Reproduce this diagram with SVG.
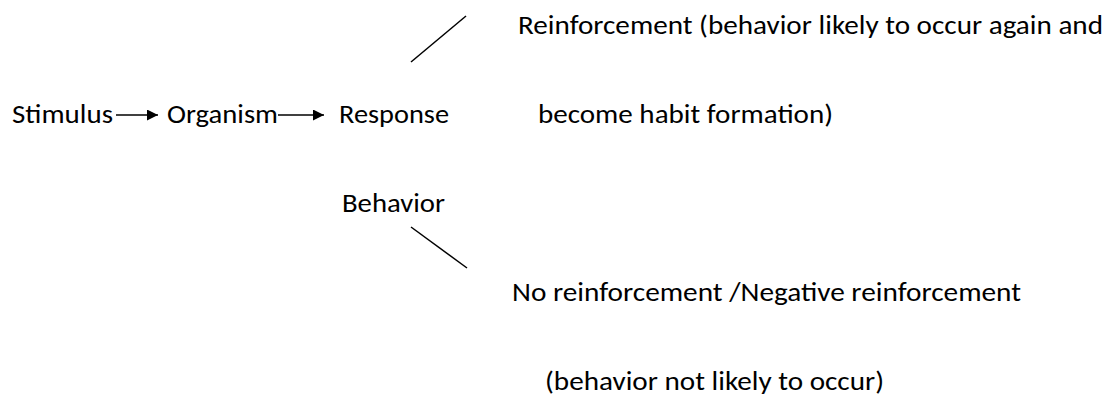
<svg xmlns="http://www.w3.org/2000/svg" width="1113" height="397" viewBox="0 0 1113 397">
  <style>
    text { font-family: Carlito, Lato, "Open Sans", sans-serif; font-size: 26.5px; fill: #000; }
    .ln { stroke: #000; stroke-width: 1.5; fill: none; }
  </style>
  <defs>
    <marker id="arrow" viewBox="0 0 10 10" refX="10" refY="5" markerWidth="15" markerHeight="11" markerUnits="userSpaceOnUse" orient="auto">
      <path d="M0,0 L10,5 L0,10 z" fill="#000"/>
    </marker>
  </defs>
  <rect width="1113" height="397" fill="#fff"/>

  <g id="stimulus"><text x="12" y="123" textLength="101" lengthAdjust="spacingAndGlyphs">Stimulus</text></g>
  <g id="organism"><text x="167" y="123" textLength="111" lengthAdjust="spacingAndGlyphs">Organism</text></g>
  <g id="response"><text x="339" y="123" textLength="110" lengthAdjust="spacingAndGlyphs">Response</text></g>
  <g id="behavior"><text x="342" y="212" textLength="103" lengthAdjust="spacingAndGlyphs">Behavior</text></g>
  <g id="reinforcement">
    <text x="518" y="34" textLength="585" lengthAdjust="spacingAndGlyphs">Reinforcement (behavior likely to occur again and</text>
    <text x="538" y="123" textLength="295" lengthAdjust="spacingAndGlyphs">become habit formation)</text>
  </g>
  <g id="no-reinforcement">
    <text x="512" y="301" textLength="509" lengthAdjust="spacingAndGlyphs">No reinforcement /Negative reinforcement</text>
    <text x="545" y="390" textLength="339" lengthAdjust="spacingAndGlyphs">(behavior not likely to occur)</text>
  </g>

  <g id="connectors">
    <line class="ln" x1="116" y1="115" x2="158" y2="115" marker-end="url(#arrow)"/>
    <line class="ln" x1="278" y1="115" x2="324" y2="115" marker-end="url(#arrow)"/>
    <line class="ln" x1="411" y1="62" x2="466" y2="16"/>
    <line class="ln" x1="411" y1="227" x2="467" y2="268"/>
  </g>
</svg>
